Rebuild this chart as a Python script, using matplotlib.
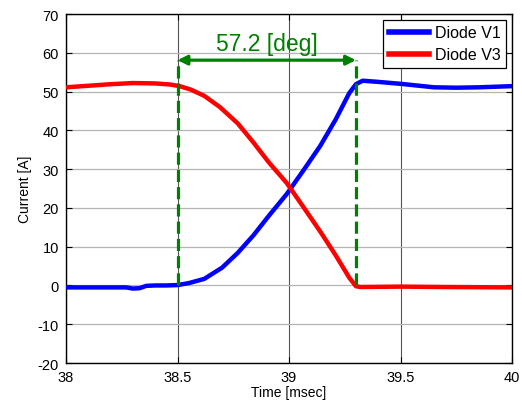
import matplotlib
matplotlib.use('Agg')
import matplotlib.pyplot as plt
import numpy as np

plt.rcParams['font.family'] = ['Liberation Sans', 'DejaVu Sans']
plt.rcParams['axes.unicode_minus'] = False

# Diode V1 current (blue)
t_v1 = [38.0, 38.1, 38.2, 38.27, 38.3, 38.33, 38.36, 38.4, 38.45, 38.5, 38.55, 38.62,
        38.7, 38.77, 38.84, 38.91, 38.99, 39.06, 39.14, 39.21, 39.27, 39.3, 39.33,
        39.4, 39.5, 39.6, 39.65, 39.75, 39.85, 39.95, 40.0]
i_v1 = [-0.5, -0.5, -0.5, -0.5, -0.8, -0.7, -0.1, 0.0, 0.0, 0.1, 0.6, 1.7,
        4.6, 8.4, 12.9, 18.0, 23.6, 29.3, 36.0, 42.9, 49.6, 51.9, 52.8,
        52.5, 52.0, 51.4, 51.1, 51.0, 51.1, 51.3, 51.4]

# Diode V3 current (red)
t_v3 = [38.0, 38.1, 38.2, 38.3, 38.4, 38.47, 38.51, 38.56, 38.62, 38.69, 38.77,
        38.84, 38.91, 38.99, 39.06, 39.14, 39.21, 39.27, 39.3, 39.32, 39.5, 39.7, 40.0]
i_v3 = [51.1, 51.5, 51.9, 52.2, 52.1, 51.8, 51.4, 50.5, 48.9, 46.0, 41.8,
        36.9, 31.7, 26.4, 20.6, 13.9, 7.7, 2.0, -0.2, -0.4, -0.3, -0.4, -0.5]

t_start = 38.5
t_end = 39.3
marker_level = 58.1
angle_label = '57.2 [deg]'

fig = plt.figure(figsize=(5.22, 4.06), dpi=100)
ax = fig.add_axes([0.1264, 0.1034, 0.8546, 0.8596])

ax.plot(t_v1, i_v1, color='#0000ff', lw=3.2, label='Diode V1', solid_joinstyle='round', zorder=3)
ax.plot(t_v3, i_v3, color='#ff0000', lw=3.2, label='Diode V3', solid_joinstyle='round', zorder=3)

green = '#008000'
ax.plot([t_start, t_start], [0, marker_level], color=green, lw=2.3, dashes=(3.8, 1.6), zorder=4)
ax.plot([t_end, t_end], [0, marker_level], color=green, lw=2.3, dashes=(3.8, 1.6), zorder=4)
ax.annotate('', xy=(t_start, marker_level), xytext=(t_end, marker_level),
            arrowprops=dict(arrowstyle='<|-|>', color=green, lw=2.3,
                            mutation_scale=14, shrinkA=0, shrinkB=0), zorder=4)
ax.text((t_start + t_end) / 2, marker_level + 1.4, angle_label, color=green,
        fontsize=16.5, ha='center', va='bottom')

ax.set_xlim(38, 40)
ax.set_ylim(-20, 70)
ax.set_xticks([38, 38.5, 39, 39.5, 40])
ax.set_xticklabels(['38', '38.5', '39', '39.5', '40'])
ax.set_yticks(range(-20, 71, 10))

ax.yaxis.grid(True, color='#b4b4b4', lw=0.9)
ax.xaxis.grid(True, color='#555555', lw=0.8)
ax.set_axisbelow(True)

ax.tick_params(direction='in', top=True, right=True, length=4, width=0.8,
               labelsize=10.5, pad=5)
for s in ax.spines.values():
    s.set_linewidth(1.0)

ax.set_xlabel('Time [msec]', fontsize=10, labelpad=1)
ax.set_ylabel('Current [A]', fontsize=10, labelpad=4)

leg = ax.legend(loc='upper right', fontsize=11.5, fancybox=False, framealpha=1,
                edgecolor='black', borderaxespad=0.35, handlelength=2.5,
                handletextpad=0.4, borderpad=0.35, labelspacing=0.45)
leg.get_frame().set_linewidth(0.9)
for h in leg.get_lines():
    h.set_linewidth(4)

fig.savefig('out.png', dpi=100)
